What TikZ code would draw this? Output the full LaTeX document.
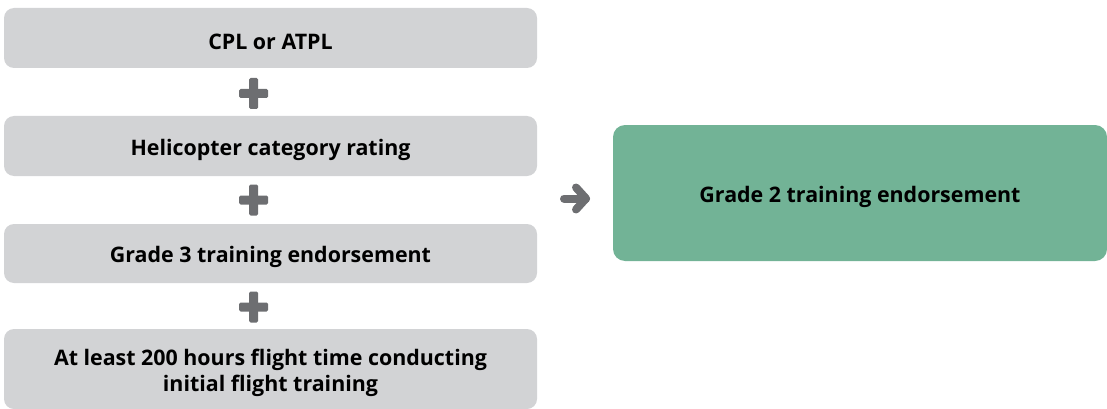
\documentclass[tikz,border=0pt]{standalone}
\usepackage{fontspec}
\setmainfont{Open Sans}
\definecolor{boxgray}{HTML}{D2D3D5}
\definecolor{boxgreen}{HTML}{72B396}
\definecolor{signgray}{HTML}{6D6E71}
\begin{document}
\begin{tikzpicture}[x=1pt,y=-1pt,
  graybox/.style={fill=boxgray, rounded corners=10pt, minimum width=533pt, inner sep=0pt},
  greenbox/.style={fill=boxgreen, rounded corners=12pt, minimum width=494pt, minimum height=136pt, inner sep=0pt},
  boxtext/.style={align=center, font=\fontsize{21.4}{26}\selectfont\bfseries, inner sep=0pt, yshift=-3.5pt},
  signbar/.style={fill=signgray, rounded corners=1.5pt}]
\useasboundingbox (0,0) rectangle (1107,409);
\node[graybox, minimum height=60pt, label={[boxtext]center:CPL or ATPL}] (b1) at (270.5,38) {};
\node[graybox, minimum height=60pt, label={[boxtext]center:Helicopter category rating}] (b2) at (270.5,146) {};
\node[graybox, minimum height=59pt, label={[boxtext]center:Grade 3 training endorsement}] (b3) at (270.5,253.5) {};
\node[graybox, minimum height=80pt, label={[boxtext]center:At least 200 hours flight time conducting\\initial flight training}] (b4) at (270.5,369) {};
\node[greenbox, label={[boxtext]center:Grade 2 training endorsement}] (g) at (860,193) {};
% plus signs
\foreach \cy in {93.5,200,307}{
  \fill[signbar] (239,\cy-4.5) rectangle (268,\cy+4.5);
  \fill[signbar] (249,\cy-15.5) rectangle (258,\cy+15.5);
}
% arrow
\coordinate (as) at (564,198.5);
\coordinate (ae) at (586,198.5);
\draw[signgray, line width=8pt, line cap=round, line join=round] (as) -- (ae);
\draw[signgray, line width=8pt, line cap=round, line join=round] (576,187.5) -- (ae) -- (576,209.5);
\end{tikzpicture}
\end{document}
